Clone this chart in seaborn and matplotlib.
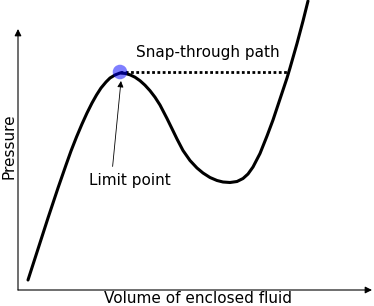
import matplotlib
matplotlib.use("Agg")
import matplotlib.pyplot as plt
import seaborn as sns
import pandas as pd

# Curve (arbitrary units)
volume = [10, 20, 30, 40, 48, 53, 58.5, 64, 69, 74, 78.5, 83, 88, 92, 97,
          102, 107, 112, 117, 122, 127, 132, 137, 142, 149, 154, 159, 165,
          172, 179, 185, 192, 199, 205, 212, 219, 225, 230, 235, 242, 249,
          255, 262, 269, 272, 279, 285, 290]
pressure = [10, 41, 72, 102, 125, 139, 153, 166, 177, 187, 195, 202, 208, 212,
            215, 217, 216.6, 215.2, 212.8, 209.3, 204.8, 199.3, 192.8, 185,
            171.5, 161.3, 151, 139.5, 129.5, 122, 117, 112.5, 109.5, 108,
            107.5, 108.5, 111.5, 116, 123, 136.5, 154, 170, 191, 212, 222,
            246.5, 269, 289]
limit_point = (102, 218)
snap_end_volume = 270.5

xlabel = "Volume of enclosed fluid"
ylabel = "Pressure"
snap_label = "Snap-through path"
limit_label = "Limit point"

sns.set_style("white")
plt.rcParams["font.family"] = ["DejaVu Sans"]
plt.rcParams["text.color"] = "black"
plt.rcParams["axes.labelcolor"] = "black"

fig = plt.figure(figsize=(3.74, 3.06), dpi=100)
ax = fig.add_axes([18 / 374, 16 / 306, 354 / 374, 261 / 306])
ax.set_xlim(0, 354)
ax.set_ylim(0, 261)
for s in ax.spines.values():
    s.set_color("none")
ax.set_xticks([])
ax.set_yticks([])

df = pd.DataFrame({"volume": volume, "pressure": pressure})
sns.lineplot(data=df, x="volume", y="pressure", ax=ax, color="black",
             lw=2.2, sort=False, clip_on=False, zorder=3)

# snap-through dotted path
sns.lineplot(x=[limit_point[0], snap_end_volume], y=[limit_point[1], limit_point[1]],
             ax=ax, color="black", lw=2.0, linestyle=(0, (1, 0.9)), zorder=2)

sns.scatterplot(x=[limit_point[0]], y=[limit_point[1]], ax=ax, color="blue",
                alpha=0.5, s=110, edgecolor="none", zorder=4)

ax.text(190, 238, snap_label, ha="center", va="center", fontsize=11)
ax.annotate(limit_label, xy=(103, 209), xytext=(112, 110), ha="center",
            va="center", fontsize=11,
            arrowprops=dict(arrowstyle="-|>", lw=0.6, color="black",
                            relpos=(0.28, 1.0), shrinkA=2, shrinkB=0,
                            mutation_scale=9))

# axes with arrowheads
for xy in [(1.0, 0.0), (0.0, 1.0)]:
    ax.annotate("", xy=xy, xytext=(0, 0), xycoords="axes fraction",
                textcoords="axes fraction",
                arrowprops=dict(arrowstyle="-|>", lw=0.8, color="black",
                                shrinkA=0, shrinkB=0, mutation_scale=10))

ax.set_xlabel(xlabel, fontsize=11, visible=True)
ax.set_ylabel(ylabel, fontsize=11, visible=True)
ax.xaxis.set_label_coords(0.508, -0.002)
ax.yaxis.set_label_coords(-0.005, 0.55)

fig.savefig("out.png", dpi=100)
